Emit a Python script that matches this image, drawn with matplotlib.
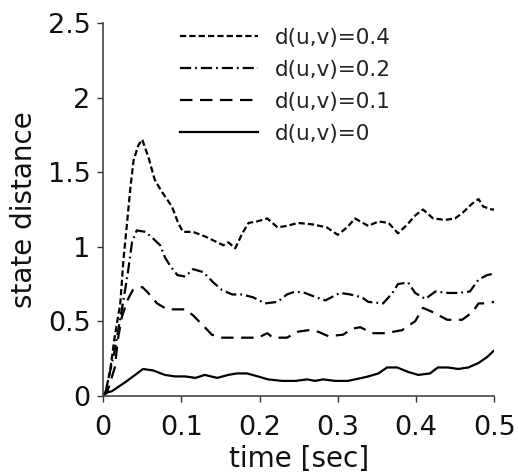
import matplotlib
matplotlib.use("Agg")
import matplotlib.pyplot as plt

# ── data ────────────────────────────────────────────────────
labels = ["d(u,v)=0.4", "d(u,v)=0.2", "d(u,v)=0.1", "d(u,v)=0"]

t_04 = [0, 0.003, 0.009, 0.015, 0.022, 0.026, 0.031, 0.035, 0.039, 0.045, 0.050,
        0.058, 0.066, 0.075, 0.088, 0.096, 0.102, 0.115, 0.130, 0.146, 0.154,
        0.160, 0.169, 0.178, 0.186, 0.197, 0.210, 0.223, 0.235, 0.249, 0.268,
        0.286, 0.300, 0.312, 0.322, 0.339, 0.352, 0.365, 0.377, 0.389, 0.399,
        0.409, 0.422, 0.437, 0.450, 0.460, 0.472, 0.480, 0.486, 0.497, 0.5]
v_04 = [0, 0.02, 0.17, 0.40, 0.62, 0.91, 1.18, 1.40, 1.58, 1.68, 1.72,
        1.60, 1.45, 1.37, 1.27, 1.16, 1.10, 1.10, 1.07, 1.03, 1.01,
        1.03, 0.99, 1.09, 1.16, 1.17, 1.19, 1.13, 1.14, 1.16, 1.15,
        1.13, 1.08, 1.13, 1.19, 1.14, 1.17, 1.16, 1.09, 1.15, 1.21,
        1.25, 1.19, 1.18, 1.19, 1.23, 1.29, 1.32, 1.27, 1.25, 1.25]

t_02 = [0, 0.003, 0.015, 0.024, 0.031, 0.037, 0.043, 0.054, 0.063, 0.073, 0.079,
        0.086, 0.095, 0.105, 0.115, 0.128, 0.141, 0.152, 0.165, 0.178, 0.192,
        0.207, 0.223, 0.235, 0.246, 0.258, 0.268, 0.284, 0.303, 0.316, 0.331,
        0.339, 0.358, 0.370, 0.377, 0.390, 0.399, 0.412, 0.425, 0.441, 0.454,
        0.469, 0.480, 0.491, 0.5]
v_02 = [0, 0.02, 0.31, 0.58, 0.80, 1.03, 1.11, 1.10, 1.06, 1.01, 0.93,
        0.87, 0.81, 0.80, 0.85, 0.83, 0.76, 0.71, 0.68, 0.68, 0.66,
        0.62, 0.63, 0.68, 0.70, 0.69, 0.67, 0.64, 0.69, 0.68, 0.66,
        0.63, 0.62, 0.69, 0.75, 0.76, 0.69, 0.65, 0.70, 0.69, 0.69,
        0.70, 0.78, 0.81, 0.82]

t_01 = [0, 0.005, 0.015, 0.019, 0.024, 0.031, 0.038, 0.050, 0.056, 0.069, 0.082,
        0.092, 0.105, 0.115, 0.130, 0.139, 0.152, 0.165, 0.182, 0.198, 0.210,
        0.217, 0.235, 0.249, 0.262, 0.275, 0.288, 0.307, 0.318, 0.329, 0.344,
        0.361, 0.382, 0.399, 0.409, 0.422, 0.440, 0.459, 0.472, 0.480, 0.486, 0.5]
v_01 = [0, 0.02, 0.19, 0.38, 0.53, 0.64, 0.71, 0.73, 0.70, 0.62, 0.58,
        0.58, 0.58, 0.54, 0.46, 0.41, 0.39, 0.39, 0.39, 0.39, 0.42,
        0.39, 0.39, 0.43, 0.44, 0.43, 0.40, 0.41, 0.45, 0.46, 0.42,
        0.42, 0.44, 0.50, 0.59, 0.56, 0.51, 0.51, 0.56, 0.62, 0.62, 0.63]

t_00 = [0, 0.003, 0.011, 0.028, 0.041, 0.051, 0.064, 0.079, 0.092, 0.105, 0.118,
        0.130, 0.146, 0.160, 0.171, 0.184, 0.198, 0.211, 0.229, 0.246, 0.261,
        0.271, 0.281, 0.297, 0.313, 0.331, 0.339, 0.352, 0.363, 0.376, 0.390,
        0.403, 0.418, 0.428, 0.441, 0.454, 0.467, 0.480, 0.491, 0.499]
v_00 = [0, 0.02, 0.03, 0.09, 0.14, 0.18, 0.17, 0.14, 0.13, 0.13, 0.12,
        0.14, 0.12, 0.14, 0.15, 0.15, 0.13, 0.11, 0.10, 0.10, 0.11,
        0.10, 0.11, 0.10, 0.10, 0.12, 0.13, 0.15, 0.19, 0.19, 0.16,
        0.14, 0.15, 0.19, 0.19, 0.18, 0.19, 0.22, 0.26, 0.30]

x_ticks = [0, 0.1, 0.2, 0.3, 0.4, 0.5]
x_ticklabels = ["0", "0.1", "0.2", "0.3", "0.4", "0.5"]
y_ticks = [0, 0.5, 1, 1.5, 2, 2.5]
y_ticklabels = ["0", "0.5", "1", "1.5", "2", "2.5"]

# ── figure ──────────────────────────────────────────────────
fig = plt.figure(figsize=(5.18, 4.74), dpi=100, facecolor="white")
ax = fig.add_axes([0.199, 0.165, 0.755, 0.786])

lw = 1.6
ax.plot(t_04, v_04, color="black", lw=lw, dashes=(2.8, 1.4), label=labels[0])
ax.plot(t_02, v_02, color="black", lw=lw, dashes=(5.0, 1.8, 0.8, 1.8), label=labels[1])
ax.plot(t_01, v_01, color="black", lw=lw, dashes=(5.6, 3.4), label=labels[2])
ax.plot(t_00, v_00, color="black", lw=lw, ls="-", label=labels[3])

ax.set_xlim(0, 0.5)
ax.set_ylim(0, 2.5)
ax.set_xticks(x_ticks)
ax.set_xticklabels(x_ticklabels)
ax.set_yticks(y_ticks)
ax.set_yticklabels(y_ticklabels)

ax.set_xlabel("time [sec]", fontsize=20, color="#111111", labelpad=3)
ax.set_ylabel("state distance", fontsize=20, color="#111111", labelpad=7)

ax.tick_params(direction="out", length=4, width=1, colors="#333333",
               labelsize=19.5, labelcolor="#111111")
ax.tick_params(axis="x", pad=10)
ax.tick_params(axis="y", pad=5)

for side in ["top", "right"]:
    ax.spines[side].set_visible(False)
for side in ["left", "bottom"]:
    ax.spines[side].set_color("#444444")
    ax.spines[side].set_linewidth(1.2)

legend = ax.legend(loc="upper left", bbox_to_anchor=(180 / 518, 1 - 28 / 474),
                   bbox_transform=fig.transFigure, frameon=False, fontsize=15.5,
                   handlelength=3.6, handletextpad=0.8, labelspacing=0.55,
                   borderpad=0, borderaxespad=0)
for text in legend.get_texts():
    text.set_color("#222222")

plt.savefig("out.png", dpi=100, facecolor=fig.get_facecolor())
